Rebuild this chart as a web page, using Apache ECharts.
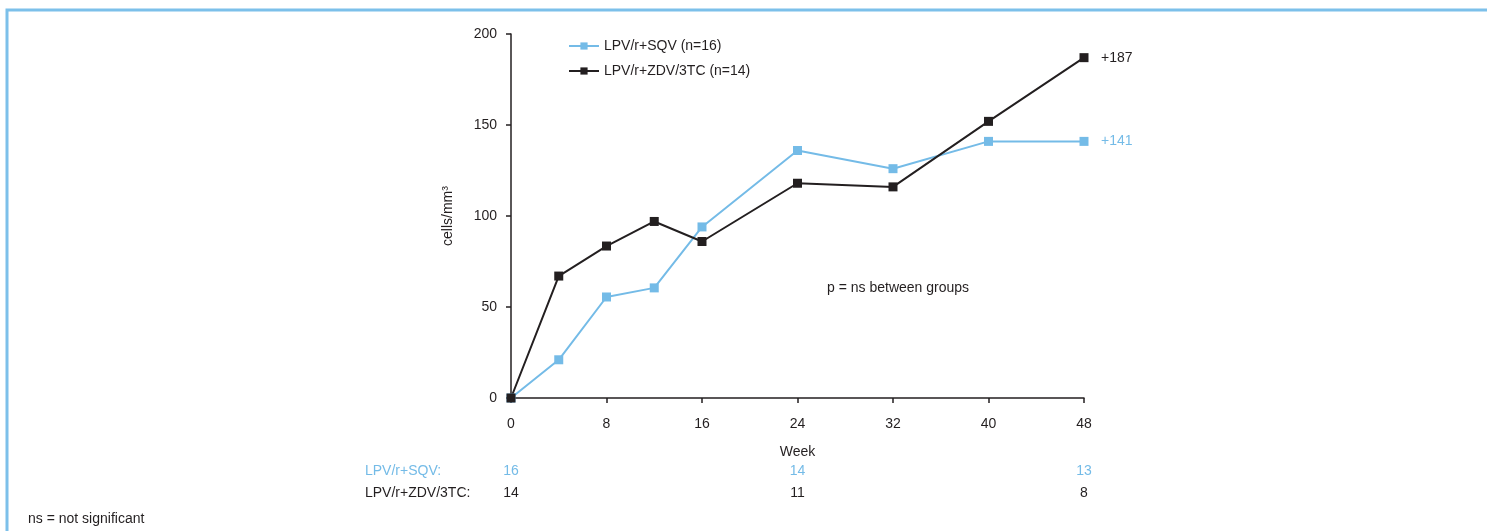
<!DOCTYPE html>
<html>

<head>
    <meta charset="utf-8" />
    <title>ECharts</title>
    <style>
        body {
            margin: 0;
            background: #fff;
        }
    </style>
</head>

<body>
    <div id="main" style="width: 1487px;height:531px;"></div>
</body>
<script src="https://cdn.jsdelivr.net/npm/echarts@6/dist/echarts.min.js"></script>
<script type="text/javascript">
    // data
    var weeks = [0, 4, 8, 12, 16, 24, 32, 40, 48];
    var sqvValues = [0, 21, 55.5, 60.5, 94, 136, 126, 141, 141];
    var zdvValues = [0, 67, 83.5, 97, 86, 118, 116, 152, 187];
    var seriesNames = ['LPV/r+SQV (n=16)', 'LPV/r+ZDV/3TC (n=14)'];
    var riskWeeks = [0, 24, 48];
    var riskSqv = [16, 14, 13];
    var riskZdv = [14, 11, 8];
    var riskLabels = ['LPV/r+SQV:', 'LPV/r+ZDV/3TC:'];

    var BLUE = '#74bbe7';
    var DARK = '#231f20';
    var FONT = '"Liberation Sans", Arial, sans-serif';

    function pairs(xs, ys) {
        return xs.map(function (x, i) {
            return [x, ys[i]];
        });
    }

    var chartDom = document.getElementById('main');
    var myChart = echarts.init(chartDom);
    var option;

    option = {
        animation: false,
        textStyle: { fontFamily: FONT },
        grid: {
            left: 511,
            right: 403,
            top: 34,
            bottom: 133
        },
        legend: {
            orient: 'vertical',
            left: 568,
            top: 39,
            padding: 0,
            itemWidth: 30,
            itemHeight: 9,
            itemGap: 11,
            textStyle: { fontFamily: FONT, fontSize: 14, color: DARK },
            data: seriesNames
        },
        xAxis: {
            type: 'value',
            min: 0,
            max: 48,
            interval: 8,
            name: 'Week',
            nameLocation: 'middle',
            nameGap: 47,
            nameTextStyle: { fontFamily: FONT, fontSize: 14, color: DARK },
            axisLine: { lineStyle: { color: DARK, width: 1.5 } },
            axisTick: { show: true, length: 5, lineStyle: { color: DARK, width: 1.5 } },
            axisLabel: { fontFamily: FONT, fontSize: 14, color: DARK, margin: 19 },
            splitLine: { show: false }
        },
        yAxis: {
            type: 'value',
            min: 0,
            max: 200,
            interval: 50,
            name: 'cells/mm³',
            nameLocation: 'middle',
            nameGap: 56,
            nameRotate: 90,
            nameTextStyle: { fontFamily: FONT, fontSize: 14, color: DARK },
            axisLine: { show: true, lineStyle: { color: DARK, width: 1.5 } },
            axisTick: { show: true, length: 5, lineStyle: { color: DARK, width: 1.5 } },
            axisLabel: { fontFamily: FONT, fontSize: 14, color: DARK, margin: 14 },
            splitLine: { show: false }
        },
        series: [
            {
                name: seriesNames[0],
                type: 'line',
                data: pairs(weeks, sqvValues),
                symbol: 'rect',
                symbolSize: 9,
                lineStyle: { color: BLUE, width: 2 },
                itemStyle: { color: BLUE },
                endLabel: {
                    show: true,
                    distance: 17,
                    color: BLUE,
                    fontFamily: FONT,
                    fontSize: 14,
                    formatter: function (p) {
                        return '+' + p.value[1];
                    }
                }
            },
            {
                name: seriesNames[1],
                type: 'line',
                data: pairs(weeks, zdvValues),
                symbol: 'rect',
                symbolSize: 9,
                lineStyle: { color: DARK, width: 2 },
                itemStyle: { color: DARK },
                endLabel: {
                    show: true,
                    distance: 17,
                    color: DARK,
                    fontFamily: FONT,
                    fontSize: 14,
                    formatter: function (p) {
                        return '+' + p.value[1];
                    }
                }
            }
        ]
    };

    option && myChart.setOption(option);

    // number-at-risk table under the axis, frame and notes
    var graphics = [
        {
            type: 'rect',
            x: 0,
            y: 0,
            shape: { x: 7, y: 10, width: 1500, height: 560 },
            style: { fill: 'none', stroke: '#7cc0ea', lineWidth: 3 },
            silent: true
        },
        {
            type: 'text',
            x: 827,
            y: 288,
            style: {
                text: 'p = ns between groups',
                font: '14px ' + FONT,
                fill: DARK,
                verticalAlign: 'middle'
            }
        },
        {
            type: 'text',
            x: 28,
            y: 519,
            style: {
                text: 'ns = not significant',
                font: '14px ' + FONT,
                fill: DARK,
                verticalAlign: 'middle'
            }
        },
        {
            type: 'text',
            x: 365,
            y: 471,
            style: { text: riskLabels[0], font: '14px ' + FONT, fill: BLUE, verticalAlign: 'middle' }
        },
        {
            type: 'text',
            x: 365,
            y: 493,
            style: { text: riskLabels[1], font: '14px ' + FONT, fill: DARK, verticalAlign: 'middle' }
        }
    ];

    riskWeeks.forEach(function (w, i) {
        var px = myChart.convertToPixel({ xAxisIndex: 0 }, w);
        graphics.push({
            type: 'text',
            x: px,
            y: 471,
            style: { text: String(riskSqv[i]), font: '14px ' + FONT, fill: BLUE, align: 'center', verticalAlign: 'middle' }
        });
        graphics.push({
            type: 'text',
            x: px,
            y: 493,
            style: { text: String(riskZdv[i]), font: '14px ' + FONT, fill: DARK, align: 'center', verticalAlign: 'middle' }
        });
    });

    myChart.setOption({ graphic: graphics });

</script>

</html>
